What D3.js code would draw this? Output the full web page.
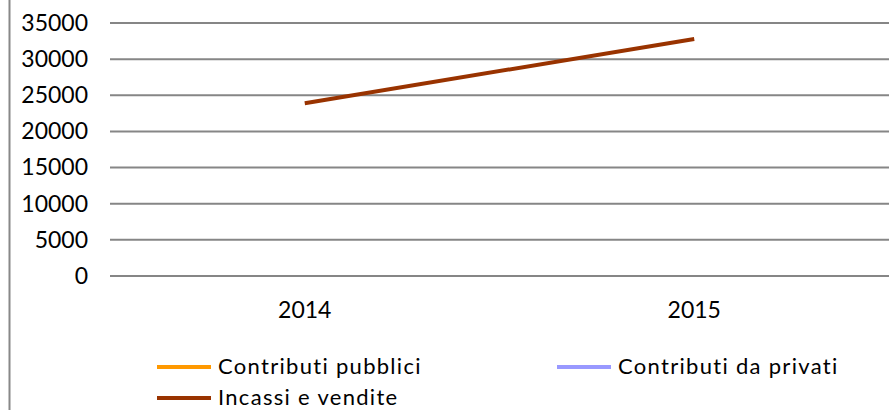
<!DOCTYPE html>
<html>
<head>
<meta charset="utf-8">
<script src="https://cdn.jsdelivr.net/npm/d3@7/dist/d3.min.js"></script>
<style>
  html, body { margin: 0; padding: 0; background: #fff; }
  svg { display: block; font-family: Lato, "Open Sans", sans-serif; font-variant-ligatures: none; }
</style>
</head>
<body>
<svg id="chart" width="889" height="410"></svg>
<script>
// Years on the category axis
const years = ["2014", "2015"];
// Series values (null = no data reported)
const contributiPubblici = [null, null];
const contributiPrivati = [null, null];
const incassiVendite = [23900, 32800];
// Value axis ticks
const yTicks = [0, 5000, 10000, 15000, 20000, 25000, 30000, 35000];

const seriesNames = ["Contributi pubblici", "Contributi da privati", "Incassi e vendite"];
const seriesColors = ["#FF9900", "#9999FF", "#993300"];
const seriesValues = [contributiPubblici, contributiPrivati, incassiVendite];

const svg = d3.select("#chart");
const W = 889, H = 410;
const m = { left: 110, right: 0, top: 23, bottom: 134 };

const x = d3.scaleBand().domain(years).range([m.left, W - m.right]).paddingInner(0).paddingOuter(0);
const y = d3.scaleLinear().domain([0, 35000]).range([H - m.bottom, m.top]);

// Outer chart border (left edge)
svg.append("line")
  .attr("x1", 9.5).attr("x2", 9.5).attr("y1", 0).attr("y2", H)
  .attr("stroke", "#888").attr("stroke-width", 2);

// Horizontal gridlines
svg.append("g").selectAll("line").data(yTicks).join("line")
  .attr("x1", m.left).attr("x2", W - m.right)
  .attr("y1", d => y(d)).attr("y2", d => y(d))
  .attr("stroke", "#868686").attr("stroke-width", 2);

// Y axis labels
const yAxis = d3.axisLeft(y).tickValues(yTicks).tickFormat(d3.format("d")).tickSize(0).tickPadding(22);
const gy = svg.append("g").attr("transform", `translate(${m.left},0)`).call(yAxis);
gy.select(".domain").remove();
gy.selectAll("text").attr("font-size", 23).attr("font-family", "Lato, sans-serif").attr("fill", "#000");

// X axis labels
const xAxis = d3.axisBottom(x).tickSize(0).tickPadding(26);
const gx = svg.append("g").attr("transform", `translate(0,${y(0)})`).call(xAxis);
gx.select(".domain").remove();
gx.selectAll("text").attr("font-size", 23).attr("font-family", "Lato, sans-serif").attr("fill", "#000");

// Series lines
const line = d3.line()
  .defined(d => d.v != null)
  .x(d => x(d.year) + x.bandwidth() / 2)
  .y(d => y(d.v));

seriesValues.forEach((vals, i) => {
  const pts = years.map((yr, j) => ({ year: yr, v: vals[j] }));
  svg.append("path")
    .datum(pts)
    .attr("d", line)
    .attr("fill", "none")
    .attr("stroke", seriesColors[i])
    .attr("stroke-width", 4);
});

// Legend
const legendPos = [
  { x: 157, y: 367 },
  { x: 557, y: 367 },
  { x: 157, y: 398 }
];
const lg = svg.append("g").selectAll("g").data(seriesNames).join("g")
  .attr("transform", (d, i) => `translate(${legendPos[i].x},${legendPos[i].y})`);
lg.append("line")
  .attr("x1", 0).attr("x2", 54).attr("y1", 0).attr("y2", 0)
  .attr("stroke", (d, i) => seriesColors[i]).attr("stroke-width", 4);
lg.append("text")
  .attr("x", 61).attr("y", 0).attr("dy", "0.32em")
  .attr("font-size", 22).attr("letter-spacing", 1.3).attr("fill", "#000")
  .text(d => d);
</script>
</body>
</html>
